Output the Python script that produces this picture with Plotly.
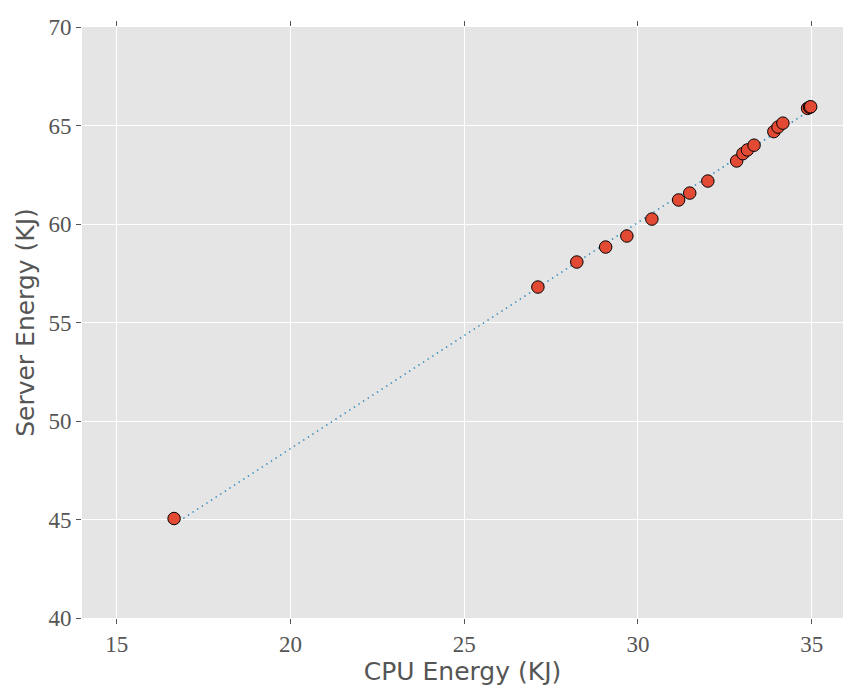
import numpy as np
import plotly.graph_objects as go

cpu_energy = [16.65, 27.12, 28.24, 29.07, 29.68, 30.40, 31.17, 31.49, 32.01,
              32.84, 33.02, 33.15, 33.34, 33.91, 34.03, 34.17, 34.88, 34.94, 34.97]
server_energy = [45.05, 56.80, 58.07, 58.83, 59.39, 60.25, 61.22, 61.57, 62.18,
                 63.20, 63.57, 63.76, 64.00, 64.69, 64.92, 65.12, 65.87, 65.93, 65.95]
x_ticks = [15, 20, 25, 30, 35]
y_ticks = [40, 45, 50, 55, 60, 65, 70]

slope, intercept = np.polyfit(cpu_energy, server_energy, 1)
fit_x = np.array([min(cpu_energy), max(cpu_energy)])
fit_y = slope * fit_x + intercept

fig = go.Figure()
fig.add_trace(go.Scatter(x=fit_x, y=fit_y, mode="lines",
                         line=dict(color="#348ABD", width=1.5, dash="1.5px,4px"),
                         showlegend=False, hoverinfo="skip"))
fig.add_trace(go.Scatter(x=cpu_energy, y=server_energy, mode="markers",
                         marker=dict(color="#E24A33", size=12.5,
                                     line=dict(color="black", width=1)),
                         showlegend=False))

tick_font = dict(family="Liberation Serif, DejaVu Serif, serif", size=23, color="#555555")
title_font = dict(family="DejaVu Sans, sans-serif", size=25, color="#555555")

fig.update_layout(
    width=843, height=686,
    margin=dict(l=82, r=0, t=27, b=68),
    paper_bgcolor="white", plot_bgcolor="#E5E5E5",
    xaxis=dict(range=[14, 35.9], tickvals=x_ticks, showgrid=True, gridcolor="white",
               gridwidth=1, zeroline=False, showline=False, ticks="outside",
               ticklen=5, tickcolor="#555555", tickwidth=1, mirror="ticks",
               tickfont=tick_font,
               title=dict(text="CPU Energy (KJ)", font=title_font, standoff=2)),
    yaxis=dict(range=[40, 70], tickvals=y_ticks, showgrid=True, gridcolor="white",
               gridwidth=1, zeroline=False, showline=False, ticks="outside",
               ticklen=5, tickcolor="#555555", tickwidth=1, mirror="ticks",
               tickfont=tick_font,
               title=dict(text="Server Energy (KJ)", font=title_font, standoff=6)),
)

fig.write_html("out.html")
